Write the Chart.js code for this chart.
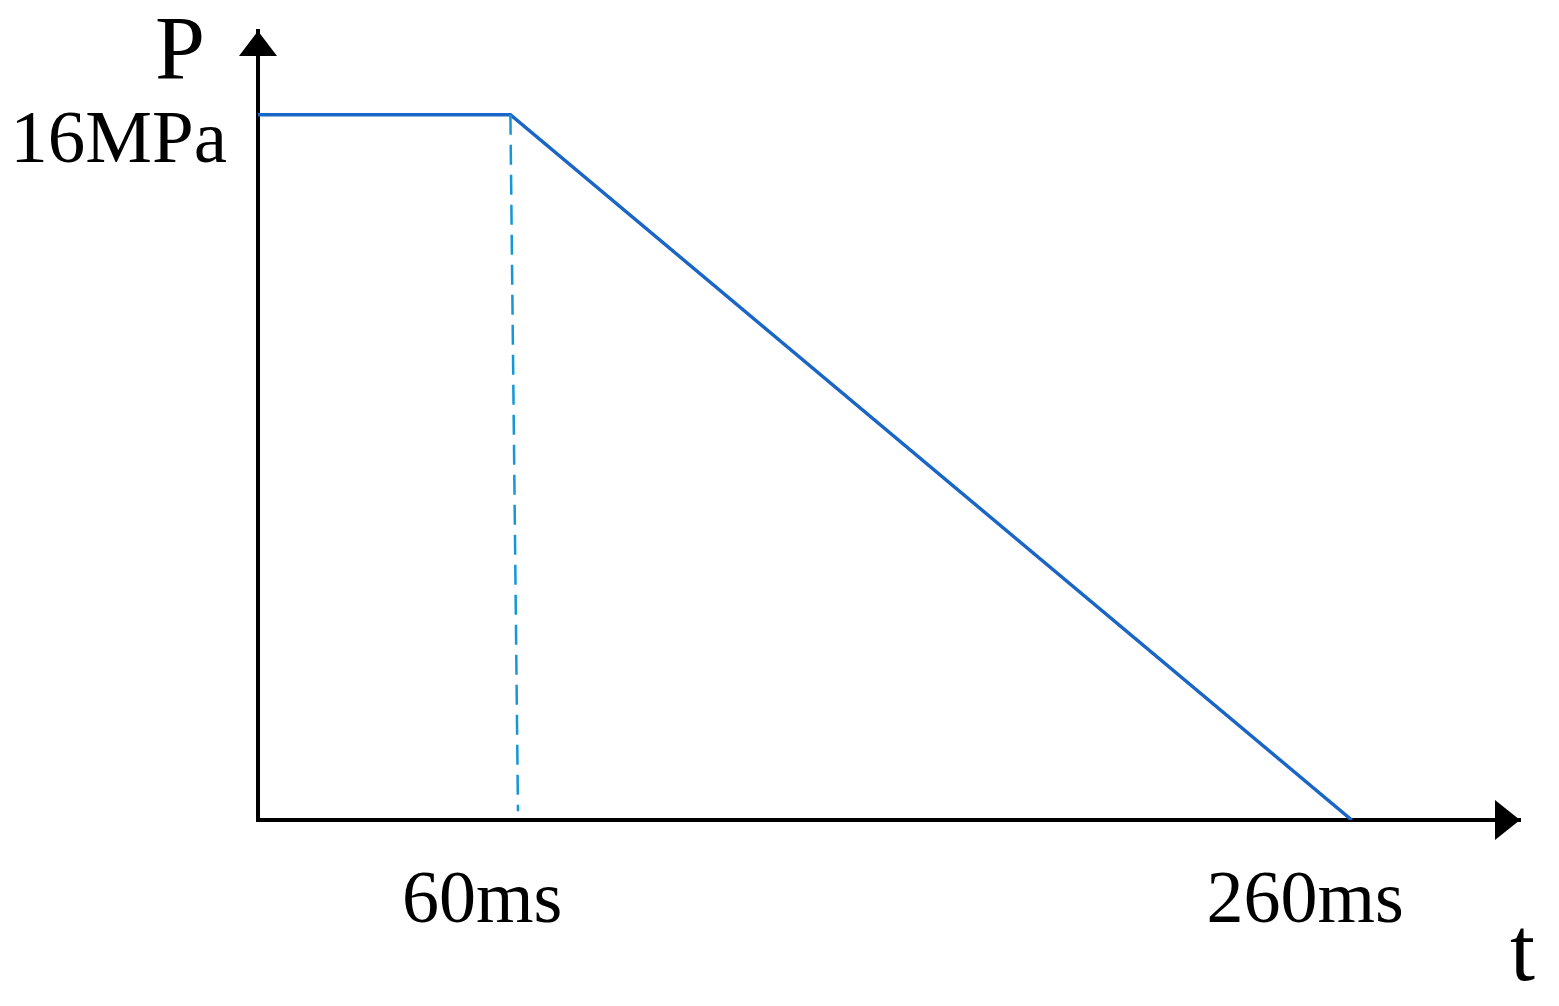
<!DOCTYPE html>
<html>
<head>
<meta charset="utf-8">
<script src="https://cdn.jsdelivr.net/npm/chart.js@4/dist/chart.umd.min.js"></script>
<style>
  html, body { margin: 0; padding: 0; background: #fff; }
  #wrap { width: 1559px; height: 1006px; position: relative; }
</style>
</head>
<body>
<div id="wrap"><canvas id="pChart"></canvas></div>
<script>
// data
const pressureLine = [
    { x: 0, y: 16 },
    { x: 60, y: 16 },
    { x: 260, y: 0 }
];
// the dashed drop line leans a little in the original
const dropLine = [
    { x: 60, y: 16 },
    { x: 61.8, y: 0.2 }
];
const xTicks = [60, 260];
const yTicks = [16];
const xUnit = 'ms';
const yUnit = 'MPa';
const xName = 't';
const yName = 'P';

const SERIF = '"Liberation Serif", "Times New Roman", serif';

// no extra label padding, the axes sit at fixed places
function fixBox(s, w, h) {
    if (w) s.width = w;
    if (h) s.height = h;
    s.paddingTop = 0;
    s.paddingBottom = 0;
    s.paddingLeft = 0;
    s.paddingRight = 0;
}

// arrows at the end of both axes + the P / t letters
const axisDecor = {
    id: 'axisDecor',
    afterDraw(chart) {
        const { ctx, chartArea } = chart;
        const x0 = chartArea.left, y0 = chartArea.bottom;
        ctx.save();
        ctx.fillStyle = '#000';
        // y arrow
        ctx.beginPath();
        ctx.moveTo(x0, chartArea.top);
        ctx.lineTo(x0 - 19, chartArea.top + 25);
        ctx.lineTo(x0 + 19, chartArea.top + 25);
        ctx.closePath();
        ctx.fill();
        // x arrow
        ctx.beginPath();
        ctx.moveTo(chartArea.right, y0);
        ctx.lineTo(chartArea.right - 25, y0 - 20);
        ctx.lineTo(chartArea.right - 25, y0 + 20);
        ctx.closePath();
        ctx.fill();
        // axis names
        ctx.font = '90px ' + SERIF;
        ctx.textAlign = 'left';
        ctx.textBaseline = 'alphabetic';
        ctx.fillText(yName, 155, 79);
        ctx.fillText(xName, 1510, 980);
        ctx.restore();
    }
};

new Chart(document.getElementById('pChart'), {
    type: 'line',
    data: {
        datasets: [
            {
                data: dropLine,
                borderColor: '#1596d8',
                borderWidth: 2.5,
                borderDash: [20, 10],
                pointRadius: 0,
                fill: false
            },
            {
                data: pressureLine,
                borderColor: '#1a66c6',
                borderWidth: 3.5,
                pointRadius: 0,
                fill: false,
                tension: 0
            }
        ]
    },
    options: {
        responsive: true,
        maintainAspectRatio: false,
        animation: false,
        layout: { padding: { left: 0, right: 39, top: 31, bottom: 0 } },
        plugins: {
            legend: { display: false },
            tooltip: { enabled: false }
        },
        scales: {
            x: {
                type: 'linear',
                min: 0,
                max: 300,
                afterFit: (s) => fixBox(s, 0, 186),
                afterBuildTicks: (s) => { s.ticks = xTicks.map(v => ({ value: v })); },
                grid: { display: false, drawTicks: false },
                border: { display: true, color: '#000', width: 4 },
                ticks: {
                    align: 'end',
                    labelOffset: 52,
                    padding: 38,
                    color: '#000',
                    font: { family: SERIF, size: 74 },
                    callback: (v) => v + xUnit
                }
            },
            y: {
                type: 'linear',
                min: 0,
                max: 17.9,
                afterFit: (s) => fixBox(s, 258, 0),
                afterBuildTicks: (s) => { s.ticks = yTicks.map(v => ({ value: v })); },
                grid: { display: false, drawTicks: false },
                border: { display: true, color: '#000', width: 4 },
                ticks: {
                    labelOffset: 28,
                    padding: 31,
                    color: '#000',
                    font: { family: SERIF, size: 75 },
                    callback: (v) => v + yUnit
                }
            }
        }
    },
    plugins: [axisDecor]
});
</script>
</body>
</html>
